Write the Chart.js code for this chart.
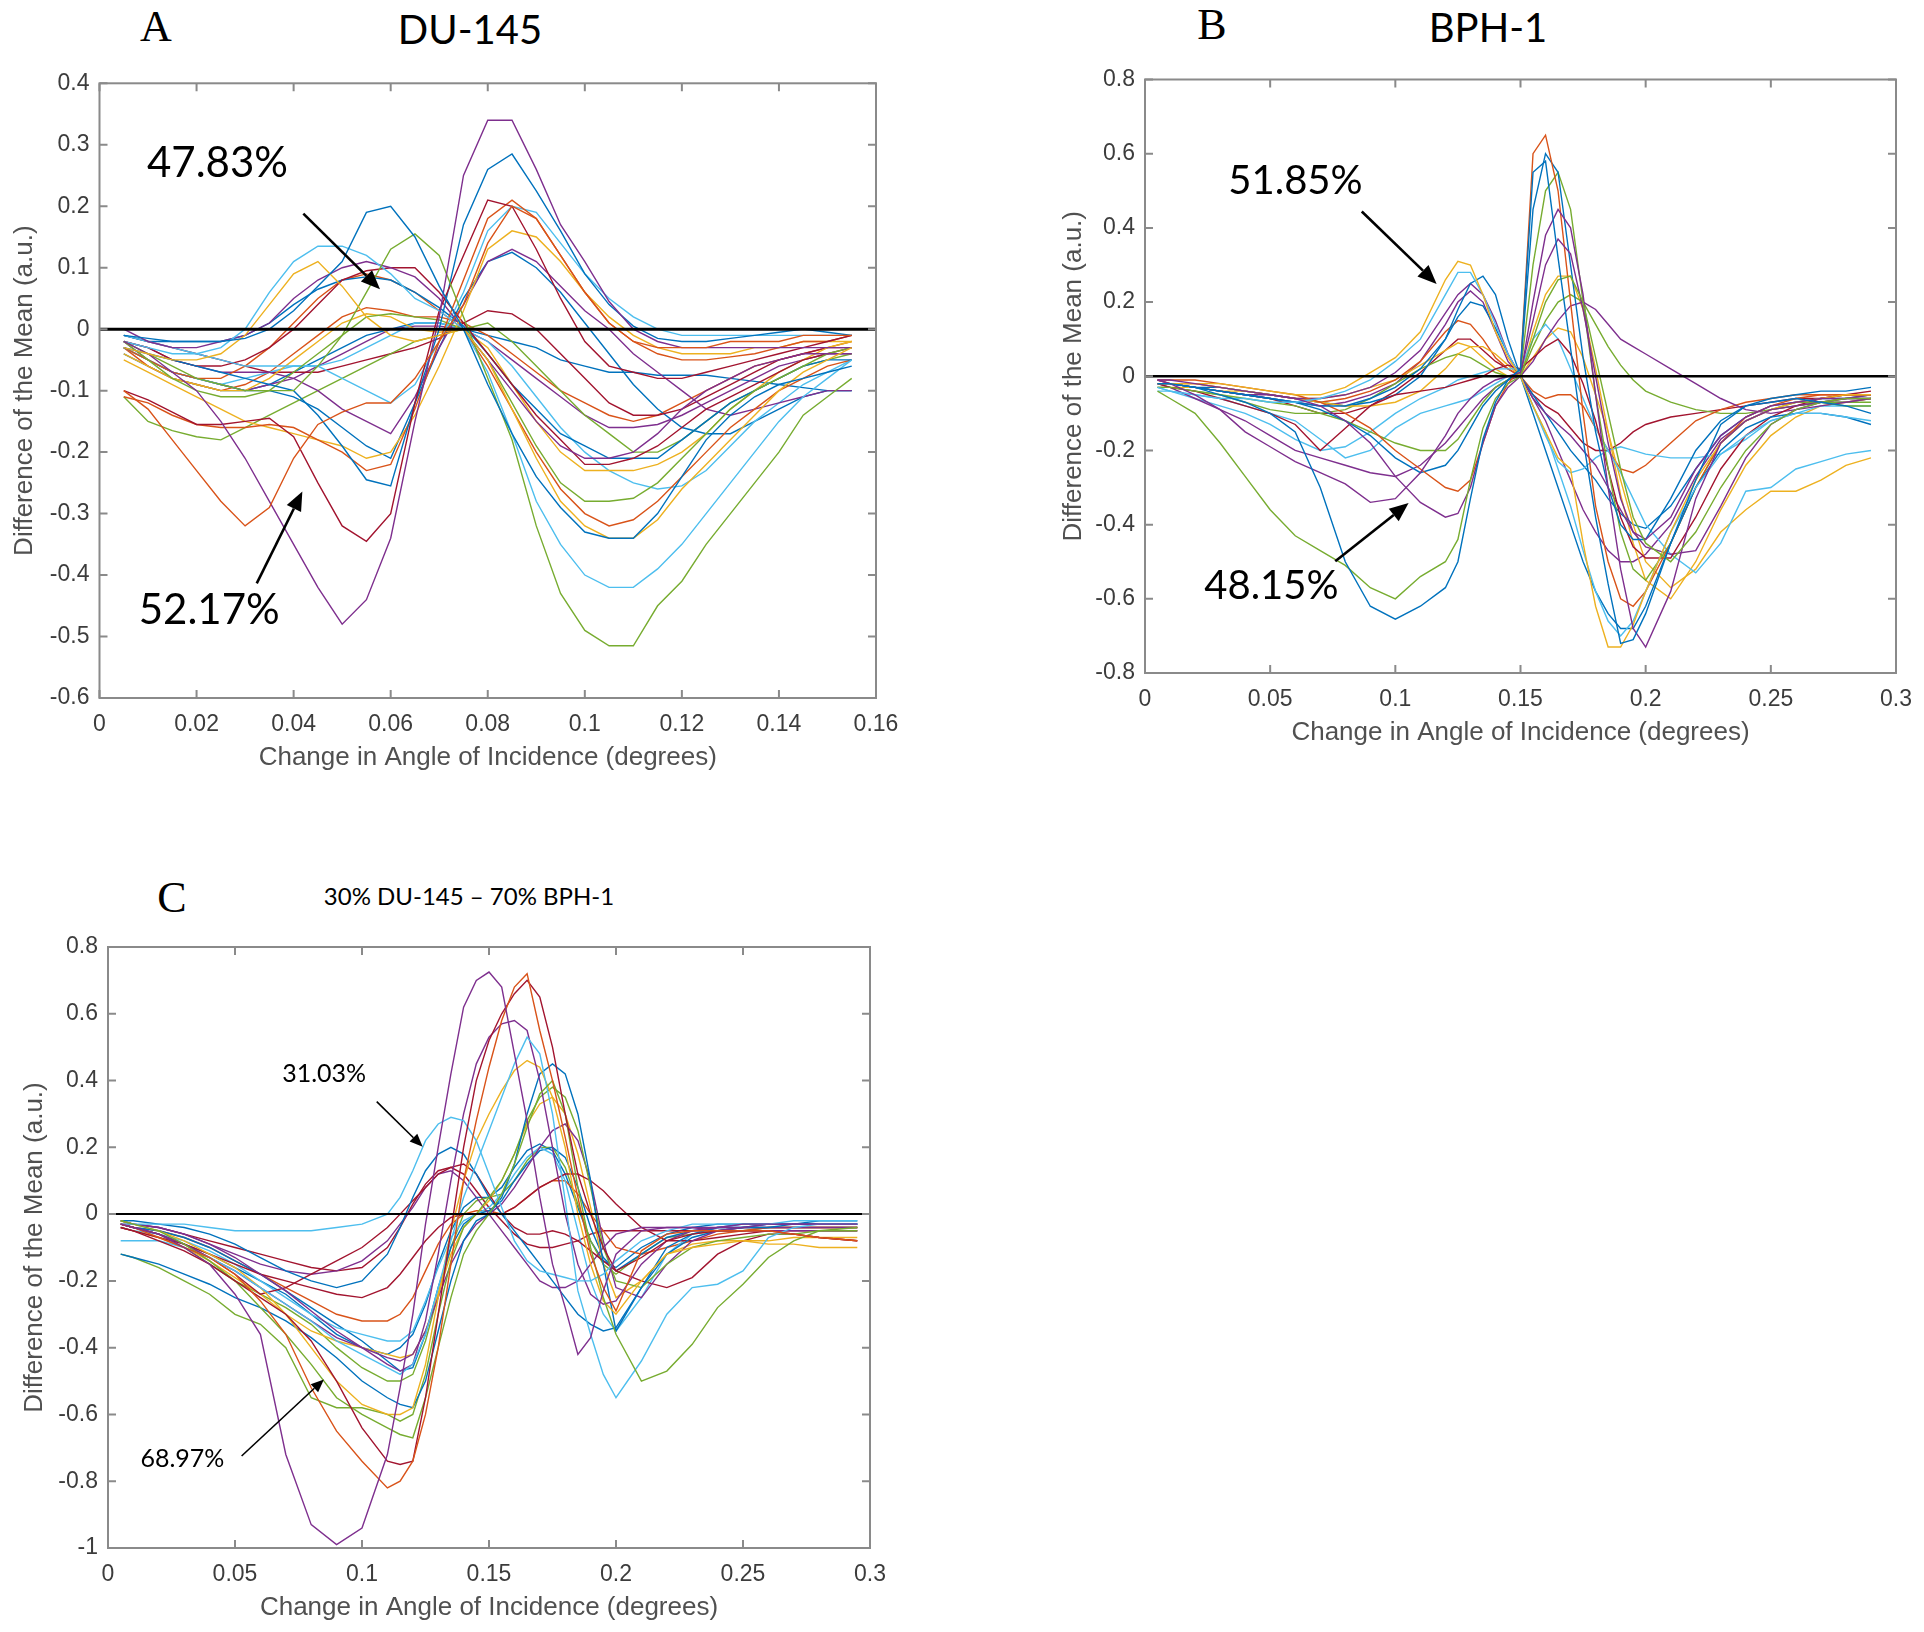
<!DOCTYPE html>
<html>
<head>
<meta charset="utf-8">
<script src="https://cdn.jsdelivr.net/npm/chart.js@4.4.1/dist/chart.umd.min.js"></script>
<style>
  html, body { margin: 0; padding: 0; background: #fff; }
  #page { position: relative; width: 1924px; height: 1632px; overflow: hidden; background: #fff; }
  canvas { position: absolute; left: 0; top: 0; }
  .lbl { position: absolute; transform: translate(-50%, -50%); white-space: nowrap; color: #000; line-height: 1; }
  .letter { font-family: 'Liberation Serif', serif; font-size: 44px; }
  .name { font-family: Lato, sans-serif; font-size: 40px; }
  .small { font-family: Lato, sans-serif; font-size: 24px; }
</style>
</head>
<body>
<div id="page">
  <div class="lbl letter" style="left:156px; top:27px">A</div>
  <div class="lbl name" style="left:470px; top:29px">DU-145</div>
  <div class="lbl letter" style="left:1212px; top:25px">B</div>
  <div class="lbl name" style="left:1488px; top:27px">BPH-1</div>
  <div class="lbl letter" style="left:172px; top:898px">C</div>
  <div class="lbl small" style="left:469px; top:896px">30% DU-145 – 70% BPH-1</div>
  <canvas id="chartA" width="1924" height="1632"></canvas>
  <canvas id="chartB" width="1924" height="1632"></canvas>
  <canvas id="chartC" width="1924" height="1632"></canvas>
</div>
<script>
// MATLAB default line colours
const COLORS = {
  blue: '#0072BD', orange: '#D95319', yellow: '#EDB120', purple: '#7E2F8E',
  green: '#77AC30', cyan: '#4DBEEE', red: '#A2142F'
};

// ---- Panel A: DU-145 ----
const A_X = [0.005, 0.01, 0.015, 0.02, 0.025, 0.03, 0.035, 0.04, 0.045, 0.05, 0.055, 0.06, 0.065, 0.07, 0.075,
  0.08, 0.085, 0.09, 0.095, 0.1, 0.105, 0.11, 0.115, 0.12, 0.125, 0.13, 0.135, 0.14, 0.145, 0.15, 0.155];
const A_YTICKS = [-0.6, -0.5, -0.4, -0.3, -0.2, -0.1, 0, 0.1, 0.2, 0.3, 0.4];
const A_XTICKS = [0, 0.02, 0.04, 0.06, 0.08, 0.1, 0.12, 0.14, 0.16];
const A_COLORS = ['blue', 'orange', 'yellow', 'purple', 'green', 'cyan', 'red', 'blue', 'orange', 'yellow',
  'purple', 'green', 'cyan', 'red', 'blue', 'orange', 'yellow', 'purple', 'green', 'cyan', 'red', 'blue',
  'orange', 'purple', 'blue'];
const A_SERIES = [
  [-0.01,-0.015,-0.02,-0.02,-0.02,-0.015,0.0,0.03,0.07,0.11,0.19,0.20,0.15,0.07,0.0,-0.09,-0.17,-0.24,-0.29,-0.33,-0.34,-0.34,-0.3,-0.24,-0.18,-0.14,-0.11,-0.09,-0.08,-0.07,-0.06],
  [-0.10,-0.13,-0.18,-0.23,-0.28,-0.32,-0.29,-0.21,-0.155,-0.135,-0.12,-0.12,-0.08,-0.02,0.04,0.14,0.20,0.18,0.12,0.06,0.01,-0.02,-0.03,-0.03,-0.03,-0.02,-0.02,-0.02,-0.01,-0.01,-0.01],
  [-0.03,-0.04,-0.05,-0.05,-0.04,-0.01,0.04,0.09,0.11,0.07,0.02,-0.01,-0.02,-0.01,0.0,-0.05,-0.13,-0.21,-0.28,-0.32,-0.34,-0.34,-0.31,-0.26,-0.22,-0.18,-0.14,-0.1,-0.07,-0.05,-0.03],
  [-0.02,-0.04,-0.07,-0.1,-0.15,-0.21,-0.28,-0.35,-0.42,-0.48,-0.44,-0.34,-0.15,0.02,0.25,0.34,0.34,0.26,0.17,0.11,0.045,0.0,-0.02,-0.03,-0.03,-0.03,-0.03,-0.03,-0.03,-0.03,-0.03],
  [-0.02,-0.04,-0.06,-0.08,-0.09,-0.1,-0.1,-0.1,-0.06,-0.01,0.06,0.13,0.155,0.12,0.02,-0.08,-0.18,-0.32,-0.43,-0.49,-0.515,-0.515,-0.45,-0.41,-0.35,-0.3,-0.25,-0.2,-0.14,-0.11,-0.08],
  [-0.02,-0.03,-0.04,-0.04,-0.03,0.0,0.06,0.11,0.135,0.135,0.12,0.09,0.05,0.03,0.0,-0.07,-0.17,-0.28,-0.35,-0.4,-0.42,-0.42,-0.39,-0.35,-0.3,-0.25,-0.2,-0.15,-0.11,-0.08,-0.05],
  [-0.10,-0.115,-0.135,-0.155,-0.155,-0.15,-0.145,-0.175,-0.25,-0.32,-0.345,-0.30,-0.12,0.03,0.12,0.21,0.20,0.13,0.05,-0.02,-0.06,-0.07,-0.08,-0.08,-0.07,-0.06,-0.05,-0.04,-0.03,-0.02,-0.01],
  [-0.03,-0.04,-0.05,-0.06,-0.07,-0.08,-0.09,-0.1,-0.14,-0.19,-0.245,-0.255,-0.12,0.0,0.17,0.26,0.285,0.225,0.16,0.09,0.04,0.005,-0.015,-0.02,-0.02,-0.015,-0.01,-0.005,0.0,-0.005,-0.01],
  [-0.11,-0.12,-0.14,-0.155,-0.16,-0.16,-0.155,-0.16,-0.18,-0.2,-0.23,-0.22,-0.13,-0.02,0.08,0.18,0.21,0.18,0.12,0.06,0.01,-0.02,-0.04,-0.05,-0.05,-0.045,-0.04,-0.03,-0.02,-0.02,-0.01],
  [-0.05,-0.07,-0.09,-0.11,-0.13,-0.15,-0.16,-0.17,-0.18,-0.19,-0.21,-0.2,-0.14,-0.06,0.03,0.13,0.16,0.15,0.11,0.06,0.02,-0.01,-0.03,-0.04,-0.04,-0.04,-0.03,-0.03,-0.02,-0.02,-0.02],
  [0.0,-0.02,-0.03,-0.03,-0.02,-0.01,0.01,0.05,0.08,0.1,0.11,0.1,0.085,0.05,0.0,-0.05,-0.1,-0.15,-0.19,-0.21,-0.21,-0.2,-0.17,-0.13,-0.1,-0.08,-0.06,-0.05,-0.04,-0.04,-0.04],
  [-0.02,-0.05,-0.08,-0.1,-0.11,-0.11,-0.1,-0.07,-0.04,-0.01,0.02,0.025,0.02,0.015,0.0,-0.05,-0.12,-0.19,-0.25,-0.28,-0.28,-0.275,-0.25,-0.21,-0.17,-0.13,-0.1,-0.08,-0.06,-0.04,-0.03],
  [-0.01,-0.02,-0.03,-0.04,-0.05,-0.06,-0.06,-0.06,-0.06,-0.08,-0.1,-0.12,-0.09,-0.02,0.06,0.16,0.2,0.19,0.14,0.09,0.05,0.02,0.0,-0.01,-0.01,-0.01,-0.01,-0.01,-0.01,-0.01,-0.01],
  [-0.02,-0.03,-0.05,-0.06,-0.06,-0.05,-0.03,0.0,0.04,0.08,0.095,0.10,0.1,0.06,0.01,-0.04,-0.09,-0.14,-0.18,-0.22,-0.22,-0.21,-0.19,-0.16,-0.13,-0.11,-0.09,-0.07,-0.05,-0.04,-0.03],
  [-0.01,-0.02,-0.02,-0.02,-0.02,-0.01,0.01,0.04,0.065,0.08,0.085,0.08,0.06,0.035,0.005,-0.04,-0.09,-0.13,-0.17,-0.19,-0.21,-0.21,-0.21,-0.18,-0.15,-0.12,-0.1,-0.08,-0.06,-0.05,-0.05],
  [-0.03,-0.05,-0.07,-0.08,-0.08,-0.06,-0.03,0.01,0.05,0.08,0.09,0.08,0.06,0.03,0.0,-0.06,-0.13,-0.2,-0.26,-0.3,-0.32,-0.31,-0.28,-0.24,-0.2,-0.16,-0.13,-0.1,-0.08,-0.06,-0.05],
  [-0.04,-0.06,-0.08,-0.09,-0.1,-0.1,-0.08,-0.05,-0.02,0.01,0.025,0.02,0.0,-0.005,0.0,-0.03,-0.09,-0.15,-0.2,-0.23,-0.23,-0.23,-0.22,-0.2,-0.17,-0.13,-0.1,-0.07,-0.05,-0.03,-0.02],
  [-0.02,-0.03,-0.05,-0.06,-0.07,-0.07,-0.07,-0.08,-0.1,-0.13,-0.15,-0.17,-0.11,-0.03,0.04,0.11,0.13,0.11,0.07,0.03,0.0,-0.04,-0.07,-0.1,-0.13,-0.14,-0.13,-0.12,-0.11,-0.1,-0.1],
  [-0.11,-0.15,-0.165,-0.175,-0.18,-0.16,-0.14,-0.12,-0.1,-0.08,-0.06,-0.04,-0.02,-0.01,0.0,0.01,-0.02,-0.06,-0.1,-0.14,-0.17,-0.2,-0.2,-0.18,-0.15,-0.12,-0.1,-0.08,-0.06,-0.05,-0.04],
  [-0.03,-0.05,-0.07,-0.08,-0.09,-0.08,-0.07,-0.06,-0.06,-0.05,-0.03,-0.01,0.01,0.01,0.0,-0.02,-0.06,-0.11,-0.16,-0.2,-0.23,-0.25,-0.26,-0.255,-0.23,-0.19,-0.15,-0.12,-0.09,-0.07,-0.05],
  [-0.01,-0.02,-0.03,-0.04,-0.05,-0.06,-0.07,-0.07,-0.07,-0.06,-0.05,-0.04,-0.03,-0.015,0.01,0.03,0.025,0.0,-0.04,-0.08,-0.12,-0.14,-0.14,-0.13,-0.11,-0.09,-0.07,-0.05,-0.04,-0.03,-0.03],
  [-0.03,-0.05,-0.07,-0.08,-0.09,-0.1,-0.1,-0.11,-0.13,-0.16,-0.19,-0.21,-0.12,-0.03,0.05,0.11,0.125,0.1,0.06,0.01,-0.04,-0.09,-0.13,-0.16,-0.17,-0.17,-0.15,-0.13,-0.11,-0.1,-0.1],
  [-0.03,-0.06,-0.08,-0.09,-0.1,-0.09,-0.07,-0.04,-0.01,0.02,0.035,0.03,0.02,0.02,0.01,-0.01,-0.04,-0.07,-0.1,-0.12,-0.14,-0.15,-0.14,-0.12,-0.1,-0.08,-0.06,-0.05,-0.04,-0.03,-0.02],
  [-0.02,-0.05,-0.07,-0.08,-0.09,-0.1,-0.09,-0.08,-0.06,-0.04,-0.02,0.0,0.005,0.005,0.0,-0.02,-0.05,-0.08,-0.11,-0.14,-0.16,-0.16,-0.155,-0.14,-0.12,-0.1,-0.08,-0.06,-0.05,-0.04,-0.04],
  [-0.04,-0.06,-0.08,-0.09,-0.1,-0.1,-0.09,-0.07,-0.05,-0.03,-0.01,0.0,0.01,0.01,0.0,-0.01,-0.02,-0.03,-0.05,-0.06,-0.07,-0.07,-0.075,-0.075,-0.075,-0.08,-0.085,-0.09,-0.095,-0.1,-0.1]
];

// ---- Panel B: BPH-1 ----
const B_X = [0.005, 0.01, 0.02, 0.03, 0.04, 0.05, 0.06, 0.07, 0.08, 0.09, 0.1, 0.11, 0.12, 0.125, 0.13, 0.135,
  0.14, 0.145, 0.15, 0.155, 0.16, 0.165, 0.17, 0.175, 0.18, 0.185, 0.19, 0.195, 0.2, 0.21, 0.22, 0.23, 0.24,
  0.25, 0.26, 0.27, 0.28, 0.29];
const B_YTICKS = [-0.8, -0.6, -0.4, -0.2, 0, 0.2, 0.4, 0.6, 0.8];
const B_XTICKS = [0, 0.05, 0.1, 0.15, 0.2, 0.25, 0.3];
const B_COLORS = ['blue', 'green', 'purple', 'purple', 'yellow', 'cyan', 'blue', 'orange', 'blue', 'green',
  'red', 'purple', 'purple', 'cyan', 'yellow', 'cyan', 'blue', 'orange', 'green', 'yellow', 'red', 'purple'];
const B_SERIES = [
  [-0.02,-0.02,-0.03,-0.05,-0.07,-0.1,-0.15,-0.3,-0.5,-0.62,-0.655,-0.62,-0.57,-0.5,-0.33,-0.17,-0.07,-0.01,0.02,0.55,0.58,0.32,0.075,-0.17,-0.38,-0.56,-0.72,-0.71,-0.64,-0.45,-0.28,-0.13,-0.08,-0.07,-0.06,-0.07,-0.08,-0.1],
  [-0.04,-0.06,-0.1,-0.18,-0.27,-0.36,-0.43,-0.47,-0.51,-0.57,-0.6,-0.54,-0.5,-0.44,-0.28,-0.14,-0.06,-0.02,0.0,0.1,0.2,0.26,0.27,0.2,0.05,-0.1,-0.25,-0.38,-0.45,-0.5,-0.42,-0.3,-0.2,-0.13,-0.09,-0.07,-0.06,-0.06],
  [-0.01,-0.01,-0.02,-0.03,-0.04,-0.05,-0.06,-0.08,-0.12,-0.18,-0.27,-0.34,-0.38,-0.37,-0.3,-0.18,-0.08,-0.03,0.0,0.2,0.38,0.45,0.4,0.22,-0.05,-0.3,-0.52,-0.68,-0.73,-0.58,-0.33,-0.18,-0.12,-0.09,-0.08,-0.07,-0.06,-0.06],
  [-0.01,-0.02,-0.05,-0.09,-0.15,-0.19,-0.23,-0.26,-0.29,-0.34,-0.33,-0.26,-0.16,-0.1,-0.06,-0.03,-0.01,0.0,0.01,0.15,0.3,0.37,0.33,0.18,0.0,-0.18,-0.33,-0.42,-0.44,-0.38,-0.25,-0.16,-0.11,-0.08,-0.07,-0.06,-0.06,-0.06],
  [-0.02,-0.02,-0.02,-0.02,-0.03,-0.04,-0.05,-0.05,-0.03,0.01,0.05,0.12,0.26,0.31,0.3,0.22,0.12,0.05,0.0,-0.08,-0.15,-0.22,-0.25,-0.45,-0.62,-0.73,-0.73,-0.67,-0.58,-0.42,-0.28,-0.18,-0.12,-0.09,-0.07,-0.06,-0.05,-0.05],
  [-0.03,-0.04,-0.05,-0.06,-0.06,-0.07,-0.07,-0.06,-0.04,-0.01,0.04,0.1,0.22,0.28,0.28,0.22,0.14,0.06,0.0,-0.08,-0.15,-0.25,-0.35,-0.47,-0.58,-0.66,-0.7,-0.66,-0.58,-0.42,-0.3,-0.21,-0.16,-0.12,-0.1,-0.1,-0.11,-0.12],
  [-0.02,-0.02,-0.03,-0.04,-0.05,-0.06,-0.07,-0.08,-0.08,-0.06,-0.03,0.02,0.1,0.18,0.25,0.27,0.22,0.1,0.0,-0.1,-0.2,-0.3,-0.4,-0.5,-0.58,-0.64,-0.68,-0.68,-0.62,-0.45,-0.3,-0.2,-0.14,-0.11,-0.1,-0.1,-0.11,-0.13],
  [-0.01,-0.01,-0.01,-0.02,-0.03,-0.04,-0.05,-0.07,-0.1,-0.14,-0.2,-0.25,-0.3,-0.31,-0.28,-0.18,-0.08,-0.02,0.02,0.6,0.65,0.5,0.2,-0.1,-0.35,-0.5,-0.6,-0.62,-0.58,-0.45,-0.3,-0.18,-0.11,-0.08,-0.06,-0.05,-0.05,-0.05],
  [-0.02,-0.02,-0.03,-0.04,-0.05,-0.06,-0.07,-0.09,-0.12,-0.16,-0.22,-0.26,-0.24,-0.2,-0.14,-0.08,-0.04,-0.01,0.02,0.45,0.6,0.55,0.3,0.05,-0.15,-0.3,-0.4,-0.44,-0.44,-0.33,-0.2,-0.12,-0.08,-0.06,-0.05,-0.04,-0.04,-0.03],
  [-0.03,-0.03,-0.04,-0.05,-0.06,-0.07,-0.08,-0.1,-0.12,-0.15,-0.18,-0.2,-0.2,-0.17,-0.12,-0.07,-0.03,-0.01,0.01,0.3,0.5,0.55,0.45,0.2,-0.05,-0.25,-0.42,-0.52,-0.55,-0.45,-0.3,-0.18,-0.12,-0.09,-0.07,-0.07,-0.08,-0.08],
  [-0.02,-0.03,-0.04,-0.06,-0.08,-0.1,-0.13,-0.2,-0.14,-0.08,-0.05,-0.04,-0.03,-0.02,-0.01,0.0,0.02,0.03,0.02,0.05,0.08,0.1,0.06,-0.02,-0.12,-0.25,-0.38,-0.46,-0.49,-0.49,-0.38,-0.25,-0.16,-0.11,-0.08,-0.06,-0.05,-0.04],
  [-0.02,-0.02,-0.03,-0.04,-0.05,-0.05,-0.06,-0.06,-0.05,-0.03,0.01,0.07,0.17,0.22,0.25,0.22,0.15,0.06,0.0,-0.06,-0.1,-0.13,-0.16,-0.2,-0.24,-0.3,-0.36,-0.42,-0.46,-0.48,-0.47,-0.35,-0.22,-0.13,-0.09,-0.07,-0.06,-0.05],
  [-0.02,-0.03,-0.06,-0.09,-0.12,-0.16,-0.2,-0.22,-0.24,-0.26,-0.27,-0.24,-0.18,-0.14,-0.1,-0.06,-0.03,-0.01,0.0,0.04,0.1,0.15,0.19,0.2,0.18,0.14,0.1,0.08,0.06,0.02,-0.02,-0.06,-0.09,-0.1,-0.09,-0.08,-0.07,-0.06],
  [-0.03,-0.04,-0.06,-0.08,-0.1,-0.13,-0.17,-0.2,-0.19,-0.15,-0.1,-0.06,-0.03,-0.01,0.0,0.01,0.02,0.02,0.02,0.1,0.14,0.1,0.02,-0.06,-0.14,-0.2,-0.26,-0.33,-0.4,-0.48,-0.53,-0.45,-0.31,-0.3,-0.25,-0.23,-0.21,-0.2],
  [-0.02,-0.02,-0.02,-0.03,-0.04,-0.05,-0.06,-0.07,-0.08,-0.08,-0.07,-0.04,0.02,0.06,0.08,0.08,0.06,0.03,0.0,0.05,0.1,0.13,0.12,0.05,-0.05,-0.15,-0.28,-0.4,-0.5,-0.57,-0.52,-0.42,-0.36,-0.31,-0.31,-0.28,-0.24,-0.22],
  [-0.04,-0.04,-0.05,-0.06,-0.08,-0.1,-0.12,-0.17,-0.22,-0.2,-0.14,-0.1,-0.08,-0.07,-0.06,-0.04,-0.02,0.0,0.0,-0.08,-0.16,-0.23,-0.26,-0.25,-0.22,-0.2,-0.19,-0.2,-0.21,-0.22,-0.22,-0.21,-0.17,-0.12,-0.1,-0.08,-0.08,-0.08],
  [-0.02,-0.02,-0.03,-0.03,-0.04,-0.05,-0.06,-0.07,-0.08,-0.07,-0.05,0.0,0.1,0.16,0.2,0.19,0.13,0.06,0.0,-0.05,-0.1,-0.15,-0.2,-0.24,-0.28,-0.33,-0.37,-0.4,-0.41,-0.35,-0.25,-0.16,-0.11,-0.08,-0.07,-0.06,-0.06,-0.05],
  [-0.01,-0.02,-0.02,-0.03,-0.04,-0.05,-0.06,-0.07,-0.06,-0.04,-0.01,0.04,0.12,0.15,0.14,0.1,0.05,0.02,0.0,-0.04,-0.06,-0.05,-0.05,-0.08,-0.14,-0.2,-0.25,-0.26,-0.24,-0.18,-0.12,-0.09,-0.07,-0.06,-0.05,-0.05,-0.05,-0.05],
  [-0.03,-0.03,-0.04,-0.05,-0.07,-0.09,-0.1,-0.1,-0.09,-0.06,-0.02,0.02,0.05,0.06,0.05,0.03,0.01,0.0,0.0,0.08,0.15,0.2,0.22,0.2,0.14,0.08,0.03,-0.01,-0.04,-0.07,-0.09,-0.1,-0.1,-0.09,-0.08,-0.07,-0.07,-0.07],
  [-0.03,-0.03,-0.03,-0.04,-0.04,-0.05,-0.06,-0.06,-0.05,-0.03,-0.01,0.03,0.07,0.09,0.08,0.05,0.02,0.0,0.0,0.12,0.22,0.27,0.27,0.18,0.02,-0.15,-0.32,-0.45,-0.55,-0.6,-0.5,-0.36,-0.24,-0.16,-0.11,-0.08,-0.07,-0.06],
  [-0.02,-0.02,-0.03,-0.04,-0.05,-0.06,-0.08,-0.1,-0.1,-0.08,-0.04,0.01,0.07,0.1,0.1,0.07,0.04,0.02,0.0,-0.05,-0.08,-0.1,-0.14,-0.18,-0.2,-0.2,-0.18,-0.15,-0.13,-0.11,-0.1,-0.09,-0.08,-0.07,-0.06,-0.06,-0.05,-0.05],
  [-0.01,-0.02,-0.03,-0.04,-0.05,-0.06,-0.07,-0.08,-0.07,-0.05,-0.02,0.04,0.14,0.2,0.23,0.2,0.12,0.04,0.0,-0.06,-0.12,-0.2,-0.28,-0.36,-0.42,-0.47,-0.5,-0.5,-0.48,-0.4,-0.27,-0.17,-0.12,-0.09,-0.08,-0.07,-0.07,-0.06]
];

// ---- Panel C: 30% DU-145 - 70% BPH-1 ----
const C_X = [0.005, 0.01, 0.02, 0.03, 0.04, 0.05, 0.06, 0.07, 0.08, 0.09, 0.1, 0.11, 0.115, 0.12, 0.125, 0.13,
  0.135, 0.14, 0.145, 0.15, 0.155, 0.16, 0.165, 0.17, 0.175, 0.18, 0.185, 0.19, 0.195, 0.2, 0.21, 0.22, 0.23,
  0.24, 0.25, 0.26, 0.27, 0.28, 0.295];
const C_YTICKS = [-1, -0.8, -0.6, -0.4, -0.2, 0, 0.2, 0.4, 0.6, 0.8];
const C_XTICKS = [0, 0.05, 0.1, 0.15, 0.2, 0.25, 0.3];
const C_COLORS = ['purple', 'orange', 'red', 'green', 'cyan', 'cyan', 'purple', 'yellow', 'blue', 'green',
  'purple', 'blue', 'red', 'purple', 'red', 'yellow', 'cyan', 'blue', 'orange', 'green', 'red', 'blue'];
const C_SERIES = [
  [-0.03,-0.04,-0.06,-0.1,-0.15,-0.24,-0.36,-0.72,-0.93,-0.99,-0.94,-0.72,-0.52,-0.3,-0.03,0.2,0.42,0.62,0.7,0.725,0.68,0.48,0.28,0.05,-0.15,-0.28,-0.42,-0.37,-0.23,-0.12,-0.05,-0.04,-0.04,-0.04,-0.03,-0.03,-0.03,-0.03,-0.03],
  [-0.03,-0.04,-0.07,-0.1,-0.13,-0.18,-0.26,-0.36,-0.52,-0.65,-0.74,-0.82,-0.8,-0.74,-0.6,-0.4,-0.15,0.1,0.28,0.44,0.58,0.68,0.72,0.55,0.4,0.23,0.05,-0.12,-0.22,-0.29,-0.11,-0.06,-0.05,-0.05,-0.05,-0.05,-0.06,-0.07,-0.08],
  [-0.04,-0.05,-0.08,-0.11,-0.15,-0.2,-0.25,-0.3,-0.38,-0.5,-0.64,-0.74,-0.75,-0.74,-0.55,-0.3,-0.05,0.2,0.4,0.52,0.6,0.66,0.7,0.65,0.5,0.3,0.12,0.0,-0.1,-0.17,-0.13,-0.08,-0.06,-0.05,-0.05,-0.05,-0.06,-0.07,-0.08],
  [-0.02,-0.03,-0.05,-0.09,-0.14,-0.2,-0.28,-0.36,-0.45,-0.55,-0.6,-0.64,-0.66,-0.67,-0.55,-0.4,-0.25,-0.12,-0.05,0.0,0.06,0.15,0.26,0.36,0.4,0.3,0.08,-0.1,-0.25,-0.36,-0.5,-0.47,-0.39,-0.28,-0.21,-0.13,-0.08,-0.05,-0.04],
  [-0.08,-0.08,-0.08,-0.1,-0.13,-0.17,-0.22,-0.27,-0.32,-0.38,-0.42,-0.46,-0.48,-0.45,-0.36,-0.22,-0.08,0.05,0.15,0.25,0.35,0.45,0.53,0.48,0.3,0.04,-0.23,-0.36,-0.48,-0.55,-0.44,-0.3,-0.22,-0.21,-0.17,-0.07,-0.04,-0.03,-0.03],
  [-0.03,-0.03,-0.03,-0.03,-0.04,-0.05,-0.05,-0.05,-0.05,-0.04,-0.03,0.0,0.05,0.13,0.22,0.27,0.29,0.28,0.22,0.12,0.02,-0.08,-0.14,-0.17,-0.18,-0.19,-0.2,-0.2,-0.18,-0.14,-0.08,-0.05,-0.03,-0.03,-0.03,-0.03,-0.02,-0.02,-0.02],
  [-0.03,-0.03,-0.04,-0.06,-0.09,-0.13,-0.18,-0.23,-0.29,-0.35,-0.4,-0.45,-0.47,-0.45,-0.32,-0.12,0.1,0.3,0.45,0.53,0.57,0.58,0.55,0.4,0.2,0.0,-0.15,-0.24,-0.27,-0.26,-0.15,-0.08,-0.05,-0.04,-0.04,-0.03,-0.03,-0.03,-0.03],
  [-0.02,-0.03,-0.05,-0.08,-0.12,-0.16,-0.22,-0.3,-0.4,-0.5,-0.57,-0.6,-0.6,-0.58,-0.45,-0.25,-0.05,0.1,0.22,0.3,0.37,0.43,0.46,0.44,0.35,0.2,0.0,-0.15,-0.26,-0.3,-0.2,-0.12,-0.1,-0.09,-0.08,-0.08,-0.07,-0.07,-0.07],
  [-0.12,-0.13,-0.15,-0.18,-0.21,-0.25,-0.28,-0.32,-0.37,-0.43,-0.5,-0.55,-0.57,-0.58,-0.5,-0.35,-0.2,-0.08,-0.02,0.0,0.05,0.15,0.3,0.42,0.45,0.42,0.3,0.1,-0.15,-0.35,-0.22,-0.1,-0.06,-0.04,-0.04,-0.04,-0.03,-0.03,-0.03],
  [-0.12,-0.13,-0.16,-0.2,-0.24,-0.3,-0.33,-0.4,-0.55,-0.58,-0.58,-0.6,-0.62,-0.6,-0.48,-0.3,-0.14,-0.04,0.0,0.05,0.1,0.18,0.28,0.35,0.38,0.35,0.25,0.08,-0.1,-0.2,-0.22,-0.15,-0.1,-0.08,-0.07,-0.06,-0.06,-0.05,-0.05],
  [-0.03,-0.04,-0.06,-0.09,-0.13,-0.17,-0.22,-0.27,-0.32,-0.37,-0.4,-0.43,-0.44,-0.42,-0.35,-0.25,-0.15,-0.08,-0.03,0.0,0.03,0.08,0.14,0.2,0.25,0.27,0.22,0.1,-0.08,-0.22,-0.25,-0.15,-0.08,-0.05,-0.04,-0.04,-0.04,-0.04,-0.04],
  [-0.02,-0.02,-0.03,-0.04,-0.06,-0.09,-0.13,-0.17,-0.2,-0.22,-0.2,-0.12,-0.04,0.05,0.13,0.18,0.2,0.18,0.12,0.05,0.0,-0.05,-0.1,-0.15,-0.2,-0.25,-0.3,-0.33,-0.35,-0.34,-0.22,-0.12,-0.07,-0.05,-0.04,-0.03,-0.03,-0.03,-0.03],
  [-0.03,-0.04,-0.06,-0.09,-0.13,-0.18,-0.24,-0.22,-0.18,-0.14,-0.1,-0.04,0.0,0.04,0.08,0.12,0.14,0.15,0.12,0.06,0.0,-0.04,-0.06,-0.06,-0.05,-0.06,-0.08,-0.11,-0.14,-0.17,-0.2,-0.22,-0.19,-0.12,-0.08,-0.06,-0.06,-0.07,-0.08],
  [-0.02,-0.03,-0.04,-0.06,-0.09,-0.12,-0.15,-0.17,-0.18,-0.17,-0.14,-0.08,-0.03,0.02,0.08,0.12,0.13,0.1,0.05,0.0,-0.05,-0.1,-0.15,-0.2,-0.22,-0.22,-0.2,-0.15,-0.1,-0.06,-0.04,-0.04,-0.04,-0.05,-0.05,-0.05,-0.05,-0.05,-0.05],
  [-0.04,-0.05,-0.07,-0.09,-0.12,-0.15,-0.18,-0.2,-0.22,-0.24,-0.25,-0.22,-0.18,-0.13,-0.08,-0.04,-0.01,0.0,0.0,0.0,0.0,0.02,0.05,0.08,0.1,0.12,0.12,0.1,0.07,0.03,-0.04,-0.08,-0.08,-0.07,-0.06,-0.05,-0.05,-0.05,-0.05],
  [-0.04,-0.05,-0.07,-0.1,-0.14,-0.19,-0.24,-0.3,-0.35,-0.38,-0.4,-0.42,-0.43,-0.42,-0.35,-0.24,-0.12,-0.04,0.0,0.04,0.1,0.18,0.27,0.33,0.35,0.3,0.18,0.02,-0.15,-0.25,-0.2,-0.12,-0.09,-0.08,-0.08,-0.09,-0.09,-0.1,-0.1],
  [-0.04,-0.05,-0.06,-0.08,-0.11,-0.15,-0.2,-0.25,-0.3,-0.34,-0.36,-0.38,-0.38,-0.35,-0.26,-0.16,-0.07,-0.02,0.0,0.02,0.06,0.12,0.17,0.2,0.18,0.1,-0.05,-0.2,-0.3,-0.35,-0.25,-0.12,-0.06,-0.04,-0.04,-0.03,-0.03,-0.03,-0.03],
  [-0.03,-0.04,-0.05,-0.07,-0.1,-0.14,-0.18,-0.23,-0.28,-0.33,-0.38,-0.44,-0.47,-0.46,-0.36,-0.22,-0.1,-0.03,0.0,0.01,0.04,0.1,0.15,0.19,0.2,0.17,0.08,-0.04,-0.13,-0.17,-0.12,-0.07,-0.05,-0.04,-0.03,-0.03,-0.03,-0.02,-0.02],
  [-0.03,-0.04,-0.05,-0.07,-0.1,-0.14,-0.18,-0.22,-0.26,-0.3,-0.32,-0.32,-0.3,-0.25,-0.17,-0.09,-0.03,0.0,0.01,0.01,0.0,0.02,0.05,0.08,0.1,0.1,0.06,0.0,-0.05,-0.1,-0.12,-0.1,-0.08,-0.06,-0.05,-0.04,-0.04,-0.04,-0.04],
  [-0.03,-0.04,-0.06,-0.1,-0.15,-0.2,-0.24,-0.28,-0.33,-0.4,-0.46,-0.5,-0.5,-0.48,-0.38,-0.24,-0.1,0.0,0.04,0.05,0.06,0.1,0.16,0.2,0.2,0.14,0.03,-0.08,-0.15,-0.18,-0.12,-0.07,-0.06,-0.05,-0.05,-0.04,-0.04,-0.04,-0.04],
  [-0.02,-0.03,-0.04,-0.06,-0.08,-0.1,-0.12,-0.14,-0.16,-0.17,-0.16,-0.1,-0.04,0.03,0.09,0.13,0.14,0.12,0.07,0.02,-0.02,-0.06,-0.09,-0.1,-0.1,-0.09,-0.08,-0.06,-0.05,-0.05,-0.05,-0.05,-0.05,-0.05,-0.04,-0.04,-0.04,-0.04,-0.04],
  [-0.03,-0.04,-0.06,-0.09,-0.12,-0.16,-0.2,-0.24,-0.3,-0.36,-0.4,-0.42,-0.4,-0.36,-0.27,-0.15,-0.05,0.02,0.05,0.05,0.08,0.14,0.19,0.21,0.19,0.12,0.02,-0.08,-0.14,-0.16,-0.1,-0.06,-0.04,-0.03,-0.03,-0.03,-0.03,-0.03,-0.03]
];

const AXIS_FONT = 'Liberation Sans';
const NOTE_FONT = 'Lato';
const TITLE_SIZE = 26;
const HALF_TITLE = TITLE_SIZE * 1.2 / 2;

function fmtTick(v) {
  return String(parseFloat(Number(v).toFixed(3)));
}

// draws the MATLAB-style box, inward ticks, zero line and the arrow notes
const matlabBox = {
  id: 'matlabBox',
  afterDatasetsDraw(chart, args, opts) {
    const { ctx, chartArea: a } = chart;
    const xs = chart.scales.x, ys = chart.scales.y;
    ctx.save();
    const y0 = ys.getPixelForValue(0);
    ctx.strokeStyle = '#000';
    ctx.lineWidth = opts.zeroWidth;
    ctx.beginPath();
    ctx.moveTo(a.left, y0);
    ctx.lineTo(a.right, y0);
    ctx.stroke();

    ctx.strokeStyle = '#8a8a8a';
    ctx.lineWidth = 2;
    ctx.strokeRect(a.left, a.top, a.right - a.left, a.bottom - a.top);
    ctx.beginPath();
    xs.ticks.forEach(t => {
      const px = xs.getPixelForValue(t.value);
      ctx.moveTo(px, a.bottom); ctx.lineTo(px, a.bottom - 8);
      ctx.moveTo(px, a.top); ctx.lineTo(px, a.top + 8);
    });
    ys.ticks.forEach(t => {
      const py = ys.getPixelForValue(t.value);
      ctx.moveTo(a.left, py); ctx.lineTo(a.left + 8, py);
      ctx.moveTo(a.right, py); ctx.lineTo(a.right - 8, py);
    });
    ctx.stroke();

    ctx.fillStyle = '#000';
    ctx.strokeStyle = '#000';
    ctx.textAlign = 'center';
    ctx.textBaseline = 'middle';
    ctx.font = opts.noteSize + 'px ' + NOTE_FONT;
    opts.notes.forEach(n => {
      ctx.fillText(n.text, xs.getPixelForValue(n.x), ys.getPixelForValue(n.y));
    });
    opts.arrows.forEach(ar => {
      const x1 = xs.getPixelForValue(ar[0]), y1 = ys.getPixelForValue(ar[1]);
      const x2 = xs.getPixelForValue(ar[2]), y2 = ys.getPixelForValue(ar[3]);
      const ang = Math.atan2(y2 - y1, x2 - x1);
      const head = opts.headLen;
      const bx = x2 - head * Math.cos(ang), by = y2 - head * Math.sin(ang);
      ctx.lineWidth = opts.arrowWidth;
      ctx.beginPath();
      ctx.moveTo(x1, y1);
      ctx.lineTo(bx, by);
      ctx.stroke();
      const hw = head * 0.42;
      ctx.beginPath();
      ctx.moveTo(x2, y2);
      ctx.lineTo(bx + hw * Math.sin(ang), by - hw * Math.cos(ang));
      ctx.lineTo(bx - hw * Math.sin(ang), by + hw * Math.cos(ang));
      ctx.closePath();
      ctx.fill();
    });
    ctx.restore();
  }
};

function makePanel(id, xs, series, colors, cfg) {
  const datasets = series.map((row, k) => ({
    data: xs.map((x, i) => ({ x: x, y: row[i] })),
    borderColor: COLORS[colors[k % colors.length]],
    borderWidth: 1.4,
    pointRadius: 0,
    tension: 0,
    fill: false
  }));
  const yW = cfg.left - (cfg.yTitleX - HALF_TITLE);
  const xH = cfg.xTitleY + HALF_TITLE - cfg.bottom;
  return new Chart(document.getElementById(id), {
    type: 'line',
    data: { datasets: datasets },
    plugins: [matlabBox],
    options: {
      responsive: false,
      animation: false,
      events: [],
      layout: {
        padding: { left: cfg.left - yW, top: cfg.top, right: 1924 - cfg.right, bottom: 1632 - cfg.bottom - xH }
      },
      plugins: {
        legend: { display: false },
        tooltip: { enabled: false },
        matlabBox: cfg.box
      },
      scales: {
        x: {
          type: 'linear', min: cfg.xTicks[0], max: cfg.xTicks[cfg.xTicks.length - 1],
          afterBuildTicks: s => { s.ticks = cfg.xTicks.map(v => ({ value: v })); },
          afterFit: s => { s.height = xH; s.paddingLeft = 0; s.paddingRight = 0; },
          grid: { display: false, drawTicks: false },
          border: { display: false },
          ticks: { color: '#3c3c3c', font: { family: AXIS_FONT, size: 23 }, padding: 13, maxRotation: 0, autoSkip: false, callback: v => fmtTick(v) },
          title: { display: true, text: 'Change in Angle of Incidence (degrees)', color: '#505050', font: { family: AXIS_FONT, size: TITLE_SIZE }, padding: 0 }
        },
        y: {
          type: 'linear', min: cfg.yTicks[0], max: cfg.yTicks[cfg.yTicks.length - 1],
          afterBuildTicks: s => { s.ticks = cfg.yTicks.map(v => ({ value: v })); },
          afterFit: s => { s.width = yW; s.paddingTop = 0; s.paddingBottom = 0; },
          grid: { display: false, drawTicks: false },
          border: { display: false },
          ticks: { color: '#3c3c3c', font: { family: AXIS_FONT, size: 23 }, padding: 10, autoSkip: false, callback: v => fmtTick(v) },
          title: { display: true, text: 'Difference of the Mean (a.u.)', color: '#505050', font: { family: AXIS_FONT, size: TITLE_SIZE }, padding: 0 }
        }
      }
    }
  });
}

makePanel('chartA', A_X, A_SERIES, A_COLORS, {
  left: 99.5, right: 876, top: 83.3, bottom: 698, yTitleX: 24.5, xTitleY: 758,
  xTicks: A_XTICKS, yTicks: A_YTICKS,
  box: {
    zeroWidth: 3, noteSize: 42, arrowWidth: 2.6, headLen: 19,
    notes: [{ text: '47.83%', x: 0.0243, y: 0.269 }, { text: '52.17%', x: 0.0226, y: -0.457 }],
    arrows: [[0.042, 0.188, 0.0578, 0.065], [0.0324, -0.4135, 0.0418, -0.264]]
  }
});

makePanel('chartB', B_X, B_SERIES, B_COLORS, {
  left: 1145, right: 1896, top: 79.5, bottom: 673, yTitleX: 1073.6, xTitleY: 732.5,
  xTicks: B_XTICKS, yTicks: B_YTICKS,
  box: {
    zeroWidth: 2.6, noteSize: 40, arrowWidth: 2.6, headLen: 19,
    notes: [{ text: '51.85%', x: 0.0601, y: 0.526 }, { text: '48.15%', x: 0.0505, y: -0.567 }],
    arrows: [[0.0866, 0.444, 0.1165, 0.249], [0.076, -0.499, 0.1053, -0.342]]
  }
});

makePanel('chartC', C_X, C_SERIES, C_COLORS, {
  left: 108, right: 870, top: 947, bottom: 1548, yTitleX: 34.4, xTitleY: 1607.5,
  xTicks: C_XTICKS, yTicks: C_YTICKS,
  box: {
    zeroWidth: 2, noteSize: 25, arrowWidth: 1.6, headLen: 13,
    notes: [{ text: '31.03%', x: 0.0851, y: 0.421 }, { text: '68.97%', x: 0.0293, y: -0.734 }],
    arrows: [[0.1058, 0.337, 0.1239, 0.2015], [0.0526, -0.7245, 0.085, -0.495]]
  }
});
</script>
</body>
</html>
